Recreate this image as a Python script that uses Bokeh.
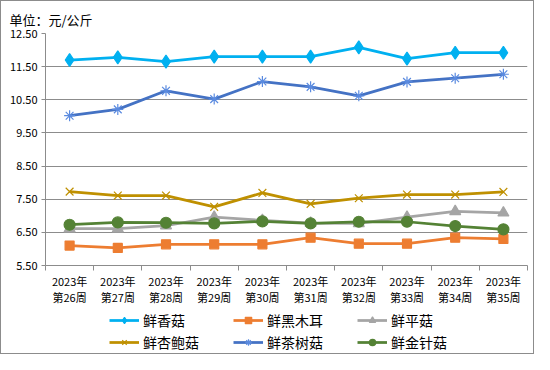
from bokeh.plotting import figure
from bokeh.layouts import column
from bokeh.models import (FixedTicker, PrintfTickFormatter, Legend, LegendItem, Range1d)
from bokeh.embed import file_html
from bokeh.resources import INLINE

weeks = ["2023年\n第26周", "2023年\n第27周", "2023年\n第28周", "2023年\n第29周", "2023年\n第30周",
         "2023年\n第31周", "2023年\n第32周", "2023年\n第33周", "2023年\n第34周", "2023年\n第35周"]

xianggu = [11.70, 11.78, 11.65, 11.80, 11.80, 11.80, 12.08, 11.74, 11.92, 11.92]
heimuer = [6.10, 6.03, 6.14, 6.14, 6.14, 6.34, 6.16, 6.16, 6.34, 6.30]
pinggu = [6.61, 6.61, 6.70, 6.96, 6.86, 6.78, 6.77, 6.96, 7.13, 7.09]
xingbaogu = [7.73, 7.61, 7.61, 7.27, 7.69, 7.36, 7.53, 7.64, 7.64, 7.72]
chashugu = [10.02, 10.21, 10.77, 10.52, 11.05, 10.89, 10.62, 11.04, 11.15, 11.27]
jinzhengu = [6.73, 6.80, 6.79, 6.77, 6.83, 6.77, 6.82, 6.82, 6.69, 6.59]

series_names = ["鲜香菇", "鲜黑木耳", "鲜平菇", "鲜杏鲍菇", "鲜茶树菇", "鲜金针菇"]
y_ticks = [5.5, 6.5, 7.5, 8.5, 9.5, 10.5, 11.5, 12.5]
title_text = "单位：元/公斤"

FONT = "Noto Sans CJK SC"
GRID = "#8c8c8c"

x = list(range(len(weeks)))

p = figure(width=532, height=306, output_backend="svg", toolbar_location=None,
           x_range=Range1d(-0.5, len(weeks) - 0.5), y_range=Range1d(y_ticks[0], y_ticks[-1]),
           min_border_left=44, min_border_right=6, min_border_top=32, min_border_bottom=42)
p.outline_line_color = None
p.background_fill_color = "white"
p.border_fill_color = "white"

p.title.text = title_text
p.title.text_font = FONT
p.title.text_font_size = "13px"
p.title.text_font_style = "normal"
p.title.text_color = "#000000"
p.title.offset = -36

# axes
p.yaxis.ticker = FixedTicker(ticks=y_ticks)
p.yaxis.formatter = PrintfTickFormatter(format="%.2f")
p.yaxis.major_label_text_font = FONT
p.yaxis.major_label_text_font_size = "11px"
p.yaxis.major_label_text_color = "#000000"
p.yaxis.axis_line_color = GRID
p.yaxis.major_tick_line_color = GRID
p.yaxis.major_tick_out = 4
p.yaxis.major_tick_in = 0
p.yaxis.minor_tick_line_color = None
p.yaxis.major_label_standoff = 4

p.xaxis.ticker = FixedTicker(ticks=x, minor_ticks=[i - 0.5 for i in range(len(weeks) + 1)])
p.xaxis.major_label_overrides = {i: w for i, w in zip(x, weeks)}
p.xaxis.major_label_text_font = FONT
p.xaxis.major_label_text_font_size = "11px"
p.xaxis.major_label_text_line_height = 1.0
p.xaxis.major_label_text_color = "#000000"
p.xaxis.axis_line_color = GRID
p.xaxis.major_tick_line_color = None
p.xaxis.minor_tick_line_color = GRID
p.xaxis.minor_tick_out = 5
p.xaxis.minor_tick_in = 0
p.xaxis.major_label_standoff = 1

p.xgrid.grid_line_color = None
p.ygrid.ticker = FixedTicker(ticks=y_ticks)
p.ygrid.grid_line_color = GRID
p.ygrid.grid_line_width = 1

specs = [
    (xianggu, "#00B0F0", "diamond", 13, "#00B0F0"),
    (heimuer, "#ED7D31", "square", 9, "#ED7D31"),
    (pinggu, "#A5A5A5", "triangle", 11, "#A5A5A5"),
    (xingbaogu, "#BF9000", "x", 11, "#BF9000"),
    (chashugu, "#4472C4", "asterisk", 11, "#5B8BE0"),
    (jinzhengu, "#548235", "circle", 11, "#548235"),
]

# legend strip: a second figure holding the legend (its copies of the series sit outside its view)
lf = figure(width=532, height=46, output_backend="svg", toolbar_location=None,
            x_range=Range1d(-0.5, len(weeks) - 0.5), y_range=Range1d(100, 101),
            x_axis_location=None, y_axis_location=None, min_border=0)
lf.grid.visible = False
lf.outline_line_color = None
lf.border_fill_color = "white"
lf.background_fill_color = "white"

items = []
for name, (vals, col, mk, sz, mcol) in zip(series_names, specs):
    p.line(x, vals, line_color=col, line_width=2.75)
    p.scatter(x, vals, marker=mk, size=sz, fill_color=mcol, line_color=mcol, line_width=1.2)
    r1 = lf.line(x, vals, line_color=col, line_width=2.75)
    r2 = lf.scatter(x, vals, marker=mk, size=sz, fill_color=mcol, line_color=mcol, line_width=1.2)
    items.append(LegendItem(label=name, renderers=[r1, r2]))

lg = Legend(items=items, ncols=3, orientation="horizontal", location=(64, 1))
lg.label_text_font = FONT
lg.label_text_font_size = "14px"
lg.label_text_color = "#000000"
lg.glyph_width = 30
lg.glyph_height = 16
lg.label_width = 88
lg.label_height = 16
lg.label_standoff = 4
lg.spacing = 2
lg.padding = 1
lg.margin = 0
lg.border_line_color = None
lg.background_fill_alpha = 0
lf.add_layout(lg, "center")

layout = column(p, lf, spacing=0, styles={"border": "1px solid #8c8c8c", "background-color": "white"})

open("out.html", "w").write(file_html(layout, INLINE))
